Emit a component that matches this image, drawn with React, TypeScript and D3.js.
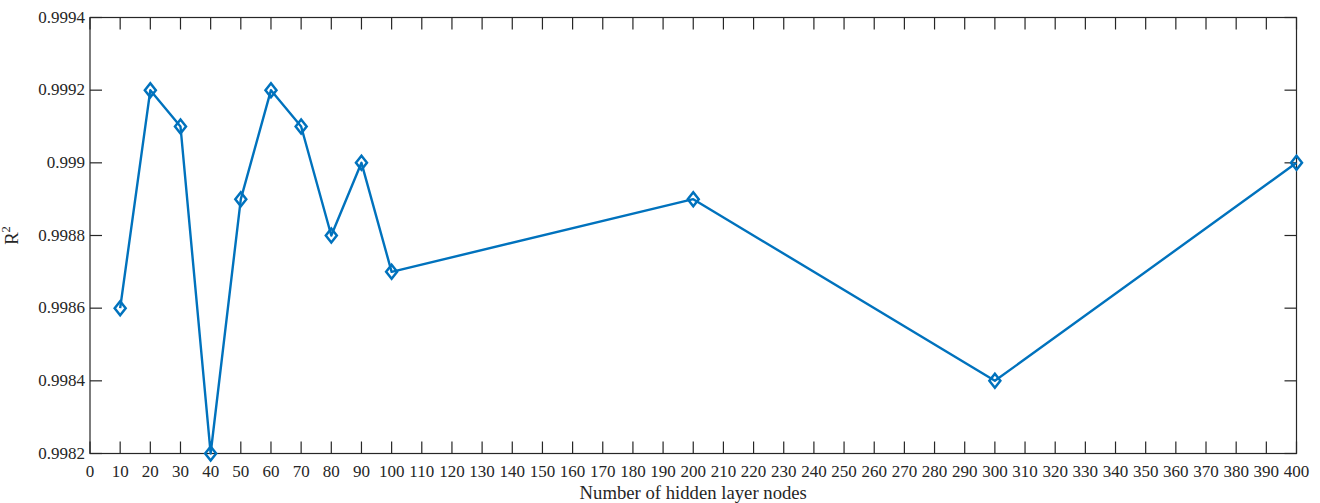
import React from "react";
import * as d3 from "d3";

// Hidden layer size vs. coefficient of determination
const nodeCounts: number[] = [10, 20, 30, 40, 50, 60, 70, 80, 90, 100, 200, 300, 400];
const r2Values: number[] = [
  0.9986, 0.9992, 0.9991, 0.9982, 0.9989, 0.9992, 0.9991, 0.9988, 0.999, 0.9987, 0.9989, 0.9984, 0.999,
];
const xTicks: number[] = d3.range(0, 401, 10);
const yTicks: number[] = [0.9982, 0.9984, 0.9986, 0.9988, 0.999, 0.9992, 0.9994];
const xTitle = "Number of hidden layer nodes";

const W = 1320;
const H = 503;
const left = 90;
const right = 1296.5;
const top = 17.5;
const bottom = 453.5;
const tickLen = 12;
const axisColor = "#262626";
const lineColor = "#0072BD";
const font = "'Liberation Serif', 'Times New Roman', serif";

const fmtY = (v: number) => {
  // trim trailing zeros as in 0.999
  return String(parseFloat(v.toFixed(4)));
};

export default function App() {
  const x = d3.scaleLinear().domain([0, 400]).range([left, right]);
  const y = d3.scaleLinear().domain([0.9982, 0.9994]).range([bottom, top]);
  const pts = nodeCounts.map((n, i) => [n, r2Values[i]] as [number, number]);
  const line = d3
    .line<[number, number]>()
    .x((d) => x(d[0]))
    .y((d) => y(d[1]));
  const mw = 5.5;
  const mh = 7;

  return (
    <svg
      width={W}
      height={H}
      style={{ position: "absolute", left: 0, top: 0, background: "#fff" }}
      fontFamily={font}
    >
      <rect x={0} y={0} width={W} height={H} fill="#fff" />
      {/* ticks on all four sides, pointing inward */}
      <g stroke={axisColor} strokeWidth={1.2}>
        {xTicks.map((t) => (
          <g key={"xt" + t}>
            <line x1={x(t)} x2={x(t)} y1={bottom} y2={bottom - tickLen} />
            <line x1={x(t)} x2={x(t)} y1={top} y2={top + tickLen} />
          </g>
        ))}
        {yTicks.map((t) => (
          <g key={"yt" + t}>
            <line x1={left} x2={left + tickLen} y1={y(t)} y2={y(t)} />
            <line x1={right} x2={right - tickLen} y1={y(t)} y2={y(t)} />
          </g>
        ))}
        <rect x={left} y={top} width={right - left} height={bottom - top} fill="none" />
      </g>
      {/* tick labels */}
      <g fill={axisColor} fontSize={17}>
        {xTicks.map((t) => (
          <text key={"xl" + t} x={x(t)} y={bottom + 23.5} textAnchor="middle">
            {t}
          </text>
        ))}
        {yTicks.map((t) => (
          <text key={"yl" + t} x={left - 5} y={y(t)} dy="0.3em" textAnchor="end">
            {fmtY(t)}
          </text>
        ))}
      </g>
      {/* axis titles */}
      <text
        x={(left + right) / 2}
        y={499}
        textAnchor="middle"
        fontSize={18.7}
        fill={axisColor}
      >
        {xTitle}
      </text>
      <text
        transform={`translate(18, ${(top + bottom) / 2}) rotate(-90)`}
        textAnchor="middle"
        fontSize={18.7}
        fill={axisColor}
      >
        R
        <tspan fontSize={12.5} dy={-8}>
          2
        </tspan>
      </text>
      {/* data line with diamond markers */}
      <path d={line(pts) ?? ""} fill="none" stroke={lineColor} strokeWidth={2.4} strokeLinejoin="round" />
      <g fill="none" stroke={lineColor} strokeWidth={2.5}>
        {pts.map((p, i) => {
          const cx = x(p[0]);
          const cy = y(p[1]);
          return (
            <path
              key={"m" + i}
              d={`M${cx},${cy - mh}L${cx + mw},${cy}L${cx},${cy + mh}L${cx - mw},${cy}Z`}
            />
          );
        })}
      </g>
    </svg>
  );
}
